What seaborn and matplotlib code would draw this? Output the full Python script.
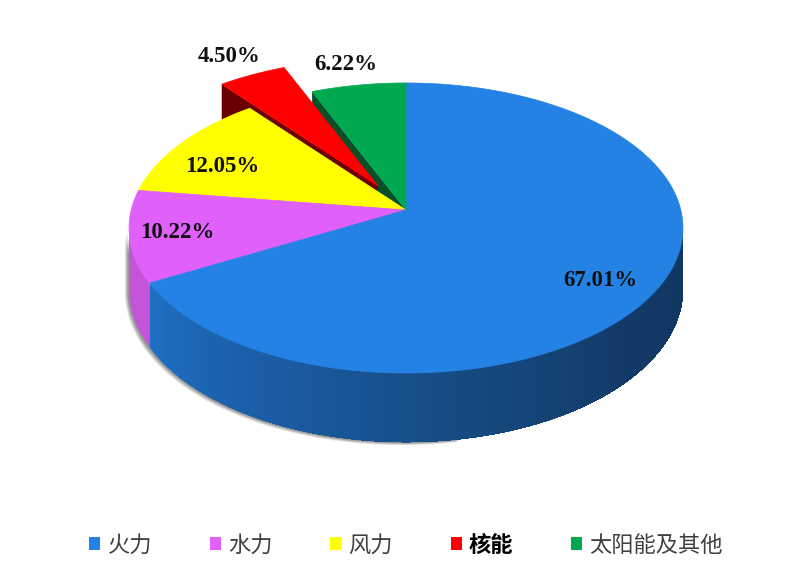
import numpy as np
import matplotlib
matplotlib.use('Agg')
import matplotlib.pyplot as plt
from matplotlib.patches import Patch, Polygon
import seaborn as sns

labels = ['火力', '水力', '风力', '核能', '太阳能及其他']
shares = [67.01, 10.22, 12.05, 4.50, 6.22]
pct_text = ['67.01%', '10.22%', '12.05%', '4.50%', '6.22%']
colors = ['#2382e4', '#e060fa', '#ffff00', '#ff0000', '#00a94f']

# where the percent labels sit, in picture pixels
label_x = [600, 177, 222, 229, 346]
label_y = [280, 233, 166, 56, 65]

# tilted pie: a circle seen in perspective, apex at (cx, cy)
cx, cy = 406, 210
dist = 8.06
fx, fy = 2215, 1151
depth = 69
explode = (-28, -24)   # the nuclear slice is pulled out

sns.set_theme(style='white')
plt.rcParams['font.family'] = ['Noto Sans CJK SC', 'DejaVu Sans']


def project(t):
    t = np.radians(t)
    x, y = np.sin(t), np.cos(t)
    return cx + x * fx / (dist + y), cy - y * fy / (dist + y)


def drop(t):
    return depth * (dist - 1) / (dist + np.cos(np.radians(t)))


def wedge(t0, t1, off=(0, 0)):
    t = np.arange(t0, t1, 0.5)
    t = np.append(t, t1)
    x, y = project(t)
    xs = np.concatenate([[cx], x]) + off[0]
    ys = np.concatenate([[cy], y]) + off[1]
    return np.column_stack([xs, ys])


def wall(t0, t1):
    t = np.append(np.arange(t0, t1, 0.5), t1)
    x, y = project(t)
    low = y + drop(t)
    return np.column_stack([np.concatenate([x, x[::-1]]), np.concatenate([y, low[::-1]])])


def side_cut(t, off=(0, 0)):
    x, y = project(t)
    x, y = x + off[0], y + off[1]
    return [(x, y), (cx + off[0], cy + off[1]),
            (cx + off[0], cy + off[1] + depth * (dist - 1) / dist), (x, y + drop(t))]


edges = np.concatenate([[0], np.cumsum(shares)]) * 3.6
left_t, right_t = 262.9, 97.1

fig = plt.figure(figsize=(8, 5.72), dpi=100)
ax = fig.add_axes([0, 0, 1, 1])
ax.set_xlim(0, 800)
ax.set_ylim(572, 0)
ax.axis('off')

# soft shadow under the left side
for s, a in zip([5, 3.5, 2], [0.2, 0.3, 0.35]):
    w = wall(170, left_t)
    w[:, 0] -= s * 0.8
    w[:, 1] += s * 0.6
    ax.add_patch(Polygon(w, fc='#606060', ec='none', alpha=a, zorder=1))

# outer walls, painted over each other so the gradient has no seams
ax.add_patch(Polygon(wall(edges[1], left_t), fc='#c455d8', ec='none', zorder=2))
steps = np.arange(edges[1], right_t, -1.0)
blues = sns.blend_palette(['#1f6fc4', '#1a5ca2', '#164a80', '#123a68', '#113560'], len(steps))
for t1, c in zip(steps, blues):
    ax.add_patch(Polygon(wall(right_t, t1), fc=c, ec='none', zorder=2))

# cut faces seen through the gap of the pulled out slice
ax.add_patch(Polygon(side_cut(edges[4]), fc='#0b4f2a', ec='none', zorder=3))
ax.add_patch(Polygon(side_cut(edges[3], explode), fc='#6b0000', ec='none', zorder=4))

# top faces
draw_z = [8, 7, 6, 5, 9]
for i in range(len(shares)):
    off = explode if labels[i] == '核能' else (0, 0)
    ax.add_patch(Polygon(wedge(edges[i], edges[i + 1], off), fc=colors[i], ec=colors[i],
                         lw=0.5, zorder=draw_z[i]))

for x, y, s in zip(label_x, label_y, pct_text):
    ax.text(x, y, s, ha='center', va='center', fontsize=16.5, fontweight='bold',
            family='Liberation Serif', color='#111111', zorder=12)

handles = [Patch(fc=c, ec='none') for c in colors]
leg = ax.legend(handles, labels, ncols=5, loc='center', bbox_to_anchor=(406, 545),
                bbox_transform=ax.transData, frameon=False, fontsize=16,
                handlelength=0.5, handleheight=0.55, handletextpad=0.32, columnspacing=2.6,
                labelcolor='#404040')
for t in leg.get_texts():
    if t.get_text() == '核能':
        t.set_fontweight('bold')
        t.set_color('black')

fig.savefig('out.png', dpi=100)
